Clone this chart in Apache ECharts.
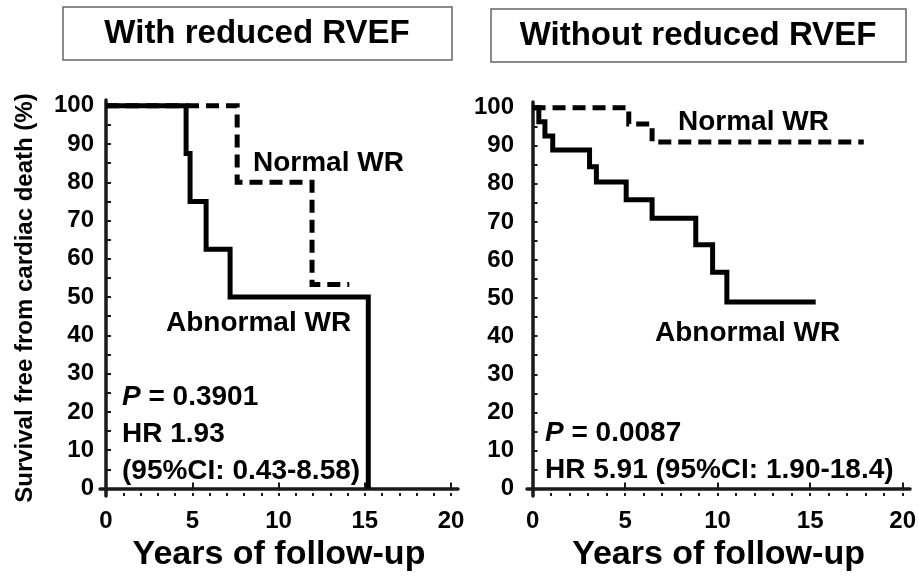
<!DOCTYPE html>
<html><head><meta charset="utf-8">
<script src="https://cdn.jsdelivr.net/npm/echarts@6/dist/echarts.min.js"></script>
<style>html,body{margin:0;padding:0;background:#fff}#c{width:919px;height:577px}</style>
</head><body><div id="c"></div>
<script>
// ---- data ----
const panelTitles = ['With reduced RVEF', 'Without reduced RVEF'];
const yAxisTitle = 'Survival free from cardiac death (%)';
const xAxisTitle = 'Years of follow-up';
const yTickLabels = [0, 10, 20, 30, 40, 50, 60, 70, 80, 90, 100];
const yTickMarks = [0, 5, 10, 15, 20, 25, 30, 35, 40, 45, 50, 55, 60, 65, 70, 75, 80, 85, 90, 95, 100];
const xTickLabels = [0, 5, 10, 15, 20];
const xMinorTicks = [0, 1, 2, 3, 4, 5, 6, 7, 8, 9, 10, 11, 12, 13, 14, 15, 16, 17, 18, 19, 20];
const seriesNames = ['Normal WR', 'Abnormal WR'];
// [years, survival %] — Kaplan-Meier step points
const leftNormal = [[0, 100], [7.6, 80], [11.94, 53.3], [14.1, 53.3]];
const leftAbnormal = [[0, 100], [4.64, 87.5], [4.87, 75], [5.8, 62.5], [7.19, 50], [15.2, 0]];
const rightNormal = [[0, 100], [5.2, 95.7], [6.46, 91], [17.9, 91]];
const rightAbnormal = [[0, 100], [0.34, 96.3], [0.67, 92.6], [1.09, 88.9], [3.08, 84.5], [3.45, 80.5], [5.06, 75.8], [6.46, 71], [8.82, 64], [9.73, 56.8], [10.5, 49], [15.3, 49]];
const leftStats = ['{i|P} = 0.3901', 'HR 1.93', '(95%CI: 0.43-8.58)'];
const rightStats = ['{i|P} = 0.0087', 'HR 5.91 (95%CI: 1.90-18.4)'];

// ---- chart ----
const FF = '"Liberation Sans", Arial, Helvetica, sans-serif';
const AX = '#1a1a1a';
const chart = echarts.init(document.getElementById('c'), null, {renderer: 'canvas'});

function mainX(gi, labelMargin) {
  return {
    type: 'value', gridIndex: gi, position: 'bottom',
    min: gi === 0 ? -0.35 : -0.3, max: 20.4,
    name: xAxisTitle, nameLocation: 'middle', nameGap: 40,
    nameTextStyle: {fontFamily: FF, fontWeight: 'bold', fontSize: 34, color: '#000'},
    axisLine: {show: true, lineStyle: {color: AX, width: 3.5}},
    axisTick: {show: true, inside: true, length: 6, customValues: xTickLabels, lineStyle: {color: AX, width: 2}},
    axisLabel: {show: true, customValues: xTickLabels, margin: labelMargin, fontFamily: FF, fontWeight: 'bold', fontSize: 24, color: '#000'},
    splitLine: {show: false}
  };
}
function minorX(gi) {
  return {
    type: 'value', gridIndex: gi, position: 'bottom',
    min: gi === 0 ? -0.35 : -0.3, max: 20.4,
    axisLine: {show: false},
    axisTick: {show: true, inside: true, length: 3, customValues: xMinorTicks, lineStyle: {color: AX, width: 2}},
    axisLabel: {show: false}, splitLine: {show: false}
  };
}
function mainY(gi, name, labelMargin) {
  return {
    type: 'value', gridIndex: gi, min: -2, max: 101.5,
    name: name, nameLocation: 'middle', nameGap: 63, nameRotate: 90,
    nameTextStyle: {fontFamily: FF, fontWeight: 'bold', fontSize: 24, color: '#000'},
    axisLine: {show: true, lineStyle: {color: AX, width: 3.5}},
    axisTick: {show: true, inside: true, length: 5, customValues: yTickMarks, lineStyle: {color: AX, width: 2}},
    axisLabel: {show: true, customValues: yTickLabels, margin: labelMargin, fontFamily: FF, fontWeight: 'bold', fontSize: 24, color: '#000'},
    splitLine: {show: false}
  };
}
function km(name, data, xi, yi, dashed) {
  return {
    type: 'line', name: name, step: 'end', data: data, xAxisIndex: xi, yAxisIndex: yi,
    symbol: 'none', silent: true, animation: false,
    lineStyle: {color: '#000', width: 5, type: dashed ? [13, 7] : 'solid', cap: 'butt', join: 'miter'}
  };
}
function txt(x, y, text, size, align) {
  return {
    type: 'text', x: x, y: y, silent: true,
    style: {
      text: text, fill: '#000', fontFamily: FF, fontWeight: 'bold', fontSize: size,
      align: align || 'left', verticalAlign: 'middle',
      rich: {i: {fontStyle: 'italic', fontWeight: 'bold', fontFamily: FF, fontSize: size, fill: '#000'}}
    }
  };
}

const graphics = [
  {type: 'rect', shape: {x: 63, y: 7, width: 389, height: 53}, style: {fill: '#fff', stroke: '#666', lineWidth: 1.5}},
  {type: 'rect', shape: {x: 491, y: 9, width: 415, height: 53}, style: {fill: '#fff', stroke: '#666', lineWidth: 1.5}},
  txt(257, 34, panelTitles[0], 33, 'center'),
  txt(698, 36, panelTitles[1], 33, 'center'),
  txt(253, 163, seriesNames[0], 28),
  txt(166, 323, seriesNames[1], 28),
  txt(678, 122, seriesNames[0], 28),
  txt(655, 333, seriesNames[1], 28)
];
leftStats.forEach((s, i) => graphics.push(txt(122, 397 + i * 37, s, 28)));
rightStats.forEach((s, i) => graphics.push(txt(545, 433 + i * 37, s, 28)));

chart.setOption({
  animation: false,
  backgroundColor: '#fff',
  grid: [
    {left: 100, top: 100, width: 358, height: 398},
    {left: 527, top: 102, width: 386, height: 396}
  ],
  xAxis: [mainX(0, 13), minorX(0), mainX(1, 13), minorX(1)],
  yAxis: [mainY(0, yAxisTitle, 6), mainY(1, '', 13)],
  series: [
    km(seriesNames[0], leftNormal, 0, 0, true),
    km(seriesNames[1], leftAbnormal, 0, 0, false),
    km(seriesNames[0], rightNormal, 2, 1, true),
    km(seriesNames[1], rightAbnormal, 2, 1, false)
  ],
  graphic: graphics
});
</script>
</body></html>
